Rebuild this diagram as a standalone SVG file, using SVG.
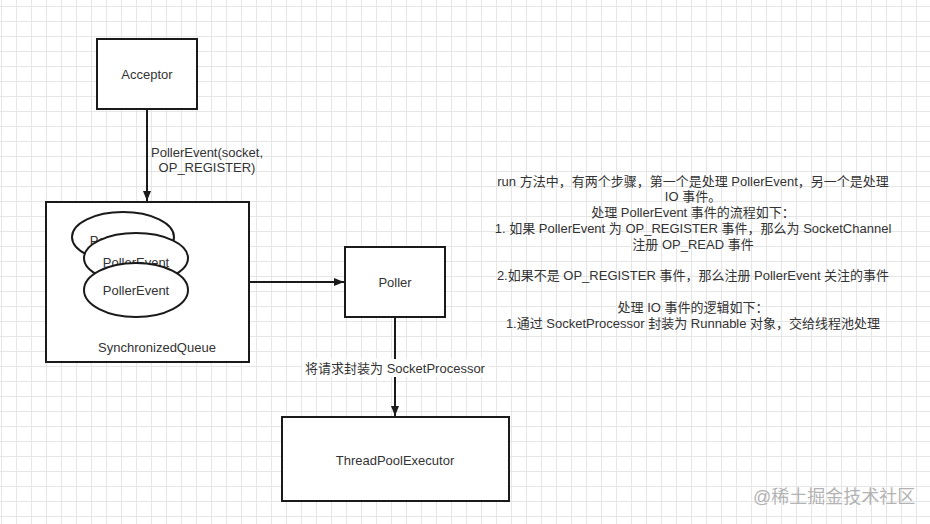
<svg xmlns="http://www.w3.org/2000/svg" width="930" height="524" viewBox="0 0 930 524">
<defs>
<pattern id="grid" x="1" y="6" width="15" height="15" patternUnits="userSpaceOnUse">
<path d="M0 0.5 H15 M0.5 0 V15" fill="none" stroke="#e6e6e6" stroke-width="1"/>
</pattern>
<marker id="arr" viewBox="0 0 10 10" refX="10" refY="5" markerWidth="10" markerHeight="10" markerUnits="userSpaceOnUse" orient="auto">
<path d="M0 1 L10 5 L0 9 Z" fill="#1a1a1a"/>
</marker>
</defs>
<style>
.box{fill:#fff;stroke:#1a1a1a;stroke-width:2}
.t{font-family:"Liberation Sans","Noto Sans CJK SC",sans-serif;font-size:13px;fill:#333;text-anchor:middle}
.edge{fill:none;stroke:#1a1a1a;stroke-width:2}
</style>
<rect width="930" height="524" fill="#fff"/>
<rect width="930" height="524" fill="url(#grid)"/>

<g id="connectors">
<line class="edge" x1="147" y1="109" x2="147" y2="201" marker-end="url(#arr)"/>
<text class="t" x="207" y="156.5">PollerEvent(socket,</text>
<text class="t" x="207" y="172">OP_REGISTER)</text>
<line class="edge" x1="249" y1="282" x2="344" y2="282" marker-end="url(#arr)"/>
<line class="edge" x1="395" y1="317" x2="395" y2="416" marker-end="url(#arr)"/>
<rect x="302" y="359" width="187" height="18" fill="#fff"/>
<text class="t" x="395" y="372.5">将请求封装为 SocketProcessor</text>
</g>

<g id="acceptor">
<rect class="box" x="97" y="39" width="100" height="70"/>
<text class="t" x="147" y="78.5">Acceptor</text>
</g>

<g id="synchronizedQueue">
<rect class="box" x="46" y="202" width="203" height="160"/>
<text class="t" x="157" y="351.5">SynchronizedQueue</text>
</g>

<g id="pollerEvent1">
<ellipse class="box" cx="123" cy="237" rx="51" ry="25"/>
<text class="t" x="123" y="244.5">PollerEvent</text>
</g>
<g id="pollerEvent2">
<ellipse class="box" cx="136" cy="258" rx="52" ry="25"/>
<text class="t" x="136" y="266.5">PollerEvent</text>
</g>
<g id="pollerEvent3">
<ellipse class="box" cx="136" cy="290" rx="52" ry="27"/>
<text class="t" x="136" y="294.5">PollerEvent</text>
</g>

<g id="poller">
<rect class="box" x="345" y="247" width="100" height="70"/>
<text class="t" x="395" y="286.5">Poller</text>
</g>

<g id="threadPoolExecutor">
<rect class="box" x="282" y="417" width="227" height="84"/>
<text class="t" x="395" y="464.5">ThreadPoolExecutor</text>
</g>

<g id="note">
<text class="t" x="693" y="185.5">run 方法中，有两个步骤，第一个是处理 PollerEvent，另一个是处理</text>
<text class="t" x="693" y="201">IO 事件。</text>
<text class="t" x="693" y="217">处理 PollerEvent 事件的流程如下：</text>
<text class="t" x="693" y="232.5">1. 如果 PollerEvent 为 OP_REGISTER 事件，那么为 SocketChannel</text>
<text class="t" x="693" y="248.5">注册 OP_READ 事件</text>
<text class="t" x="693" y="280">2.如果不是 OP_REGISTER 事件，那么注册 PollerEvent 关注的事件</text>
<text class="t" x="693" y="311.5">处理 IO 事件的逻辑如下：</text>
<text class="t" x="693" y="327.5">1.通过 SocketProcessor 封装为 Runnable 对象，交给线程池处理</text>
</g>

<text x="753" y="503" style="font-family:'Liberation Sans','Noto Sans CJK SC',sans-serif;font-size:18px;fill:#b3b3b3">@稀土掘金技术社区</text>
</svg>
